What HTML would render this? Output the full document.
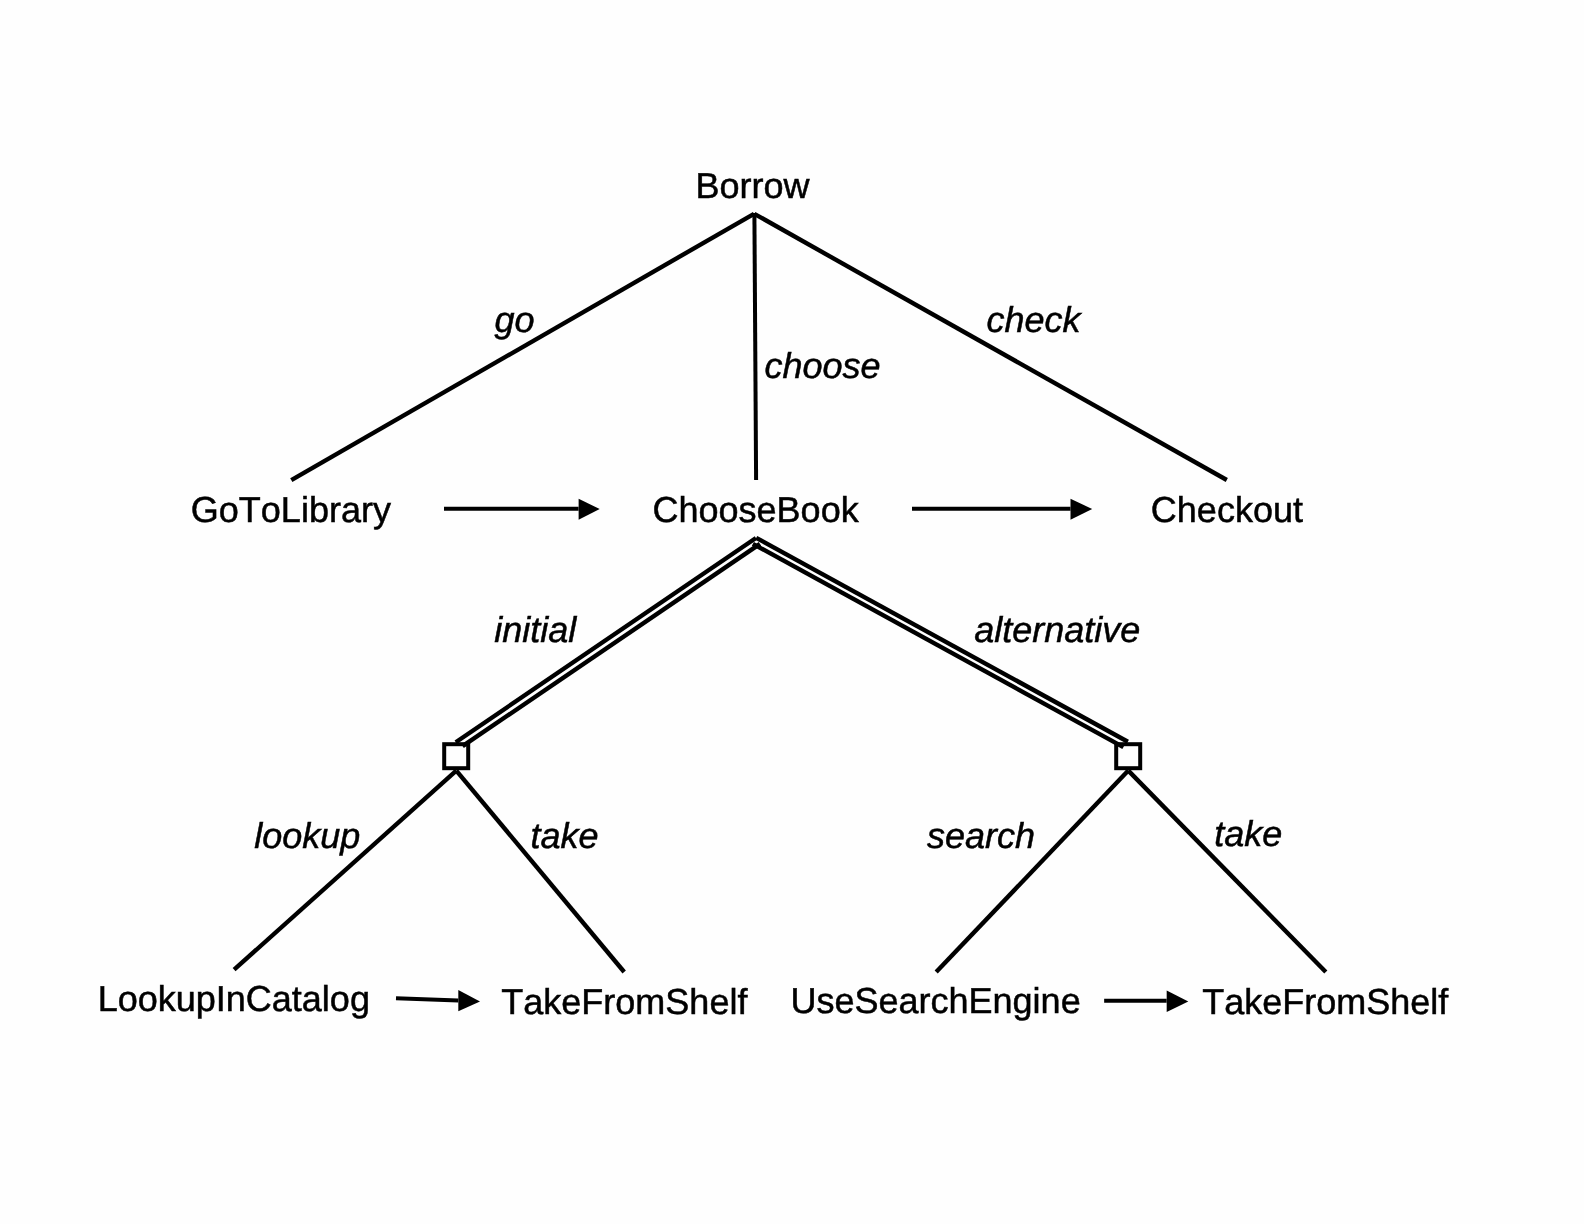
<!DOCTYPE html><html><head><meta charset="utf-8"><style>html,body{margin:0;padding:0;background:#fefefe;width:1584px;height:1224px;overflow:hidden}svg{display:block;will-change:transform}text{font-kerning:none;text-rendering:geometricPrecision;font-family:"Liberation Sans",sans-serif;fill:#000;stroke:#000;stroke-width:0.5px}</style></head><body>
<svg width="1584" height="1224" viewBox="0 0 1584 1224">
<rect width="1584" height="1224" fill="#fefefe"/>
<g stroke="#000" stroke-width="4" fill="none">
<line x1="754.00" y1="213.80" x2="291.30" y2="480.20" stroke-width="4.4"/>
<line x1="754.40" y1="213.00" x2="756.10" y2="480.00"/>
<line x1="754.30" y1="213.80" x2="1226.80" y2="480.00" stroke-width="4.4"/>
<line x1="456.30" y1="770.60" x2="234.10" y2="969.70" stroke-width="4.4"/>
<line x1="456.30" y1="770.60" x2="624.20" y2="972.00" stroke-width="4.4"/>
<line x1="1128.30" y1="770.60" x2="936.20" y2="972.00" stroke-width="4.4"/>
<line x1="1128.30" y1="770.60" x2="1325.80" y2="972.00" stroke-width="4.4"/>
<line x1="444.00" y1="508.80" x2="578.60" y2="508.80"/>
<line x1="912.00" y1="508.80" x2="1070.50" y2="508.80"/>
<line x1="396.00" y1="998.30" x2="458.30" y2="1000.50"/>
<line x1="1104.15" y1="1000.80" x2="1166.65" y2="1000.80"/>
<line x1="755.95" y1="537.98" x2="455.77" y2="742.22" stroke-width="4.4"/>
<line x1="759.96" y1="543.87" x2="462.59" y2="746.19" stroke-width="4.4"/>
<line x1="756.20" y1="537.82" x2="1127.86" y2="741.75" stroke-width="4.4"/>
<line x1="752.89" y1="543.85" x2="1123.41" y2="747.16" stroke-width="4.4"/>
<rect x="444.2" y="744.2" width="24" height="24"/>
<rect x="1116.2" y="744.2" width="24" height="24"/>
</g><g fill="#000">
<polygon points="578.6,498.7 599.7,509.1 578.6,519.7"/>
<polygon points="1070.5,498.7 1092.2,509.1 1070.5,519.7"/>
<polygon points="458.3,990.1 480.0,1001.5 458.3,1011.2"/>
<polygon points="1166.7,990.6 1188.3,1001.5 1166.7,1011.9"/>
</g>
<text x="695.39" y="197.90" style="font-size:36px">Borrow</text>
<text x="190.84" y="521.70" style="font-size:36px">GoToLibrary</text>
<text x="652.52" y="521.70" style="font-size:36px">ChooseBook</text>
<text x="1150.85" y="521.80" style="font-size:36px">Checkout</text>
<text x="97.70" y="1010.70" style="font-size:36px">LookupInCatalog</text>
<text x="501.33" y="1014.00" style="font-size:36px">TakeFromShelf</text>
<text x="790.47" y="1013.40" style="font-size:36px">UseSearchEngine</text>
<text x="1202.29" y="1014.00" style="font-size:36px">TakeFromShelf</text>
<text x="494.60" y="332.20" style="font-size:36px" font-style="italic">go</text>
<text x="764.38" y="378.20" style="font-size:36px" font-style="italic">choose</text>
<text x="986.48" y="332.10" style="font-size:36px" font-style="italic">check</text>
<text x="494.30" y="641.80" style="font-size:36px" font-style="italic">initial</text>
<text x="974.31" y="641.80" style="font-size:36px" font-style="italic">alternative</text>
<text x="254.22" y="847.90" style="font-size:36px" font-style="italic">lookup</text>
<text x="530.47" y="847.80" style="font-size:36px" font-style="italic">take</text>
<text x="926.92" y="847.90" style="font-size:36px" font-style="italic">search</text>
<text x="1214.14" y="845.80" style="font-size:36px" font-style="italic">take</text>
</svg></body></html>
